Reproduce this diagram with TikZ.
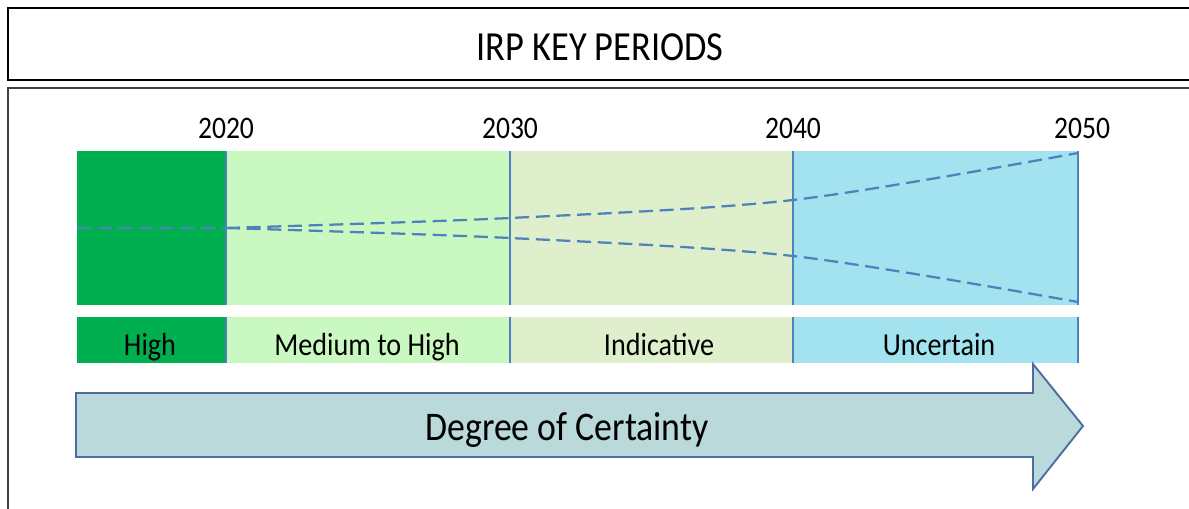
\documentclass[tikz,border=0pt]{standalone}
\usepackage{fontspec}
\setmainfont{Carlito}[FakeStretch=0.88]
\usepackage{tikz}
\usetikzlibrary{positioning,calc}
\definecolor{hiGreen}{HTML}{00B050}
\definecolor{mhGreen}{HTML}{C9F9C1}
\definecolor{indGreen}{HTML}{DFEFCB}
\definecolor{uncBlue}{HTML}{A2E3EF}
\definecolor{lineBlue}{HTML}{4F81BD}
\definecolor{arrowFill}{HTML}{B9D9DB}
\definecolor{arrowLine}{HTML}{4A6CA0}
\tikzset{
  titlebox/.style = {draw=black, line width=1.9pt},
  framebox/.style = {draw=black!75, line width=1.4pt},
  yearlbl/.style  = {anchor=base, inner sep=0pt,
    font=\fontsize{23.5}{25}\selectfont},% year above a boundary
  bandlbl/.style  = {anchor=base, inner sep=0pt,
    font=\fontsize{24}{26}\selectfont},% certainty band text
  divider/.style  = {draw=lineBlue, line width=1.1pt},
  trend/.style    = {draw=lineBlue, line width=1.7pt,
    dash pattern=on 10.5pt off 5pt},
  certarrow/.style = {draw=arrowLine, fill=arrowFill, line width=1.4pt,
    line join=miter}
}

\begin{document}
\begin{tikzpicture}[x=0.75pt,y=-0.75pt]
\useasboundingbox (0,0) rectangle (1189,508);
\clip (0,0) rectangle (1189,508);

% frames
\draw [titlebox] (8,8) rectangle (1200,80);
\node [anchor=base, inner sep=0pt, font=\fontsize{31}{33}\selectfont]
  (title) at (600,60) {IRP KEY PERIODS};
\draw [framebox] (8,88) rectangle (1200,530);

% period boundaries
\coordinate (b0) at (77,151);
\coordinate (b1) at (226,151);
\coordinate (b2) at (510,151);
\coordinate (b3) at (793,151);
\coordinate (b4) at (1078,151);

% chart bands
\fill [hiGreen]  (b0) rectangle (226,305);
\fill [mhGreen]  (b1) rectangle (510,305);
\fill [indGreen] (b2) rectangle (793,305);
\fill [uncBlue]  (b3) rectangle (1078,305);

% label bands
\fill [hiGreen]  (77,317)  rectangle (226,363);
\fill [mhGreen]  (226,317) rectangle (510,363);
\fill [indGreen] (510,317) rectangle (793,363);
\fill [uncBlue]  (793,317) rectangle (1078,363);

\foreach \b in {b1,b2,b3,b4} {
  \draw [divider] (\b) -- ($(\b)+(0,154)$);
  \draw [divider] ($(\b)+(0,166)$) -- ($(\b)+(0,212)$);
}

% years
\node [yearlbl] (y2020) at (226,138) {2020};
\node [yearlbl] (y2030) at (510,138) {2030};
\node [yearlbl] (y2040) at (793,138) {2040};
\node [yearlbl] (y2050) at (1082,138) {2050};

% band labels
\node [bandlbl] (lhigh) at (150,355) {High};
\node [bandlbl] (lmed)  at (367,355) {Medium to High};
\node [bandlbl] (lind)  at (659,355) {Indicative};
\node [bandlbl] (lunc)  at (939,355) {Uncertain};

% spread of outcomes
\coordinate (s0) at (77,228);
\coordinate (s1) at (226,228);
\coordinate (u1) at (510,218);
\coordinate (u2) at (793,200);
\coordinate (u3) at (1078,153);
\coordinate (d1) at (510,238);
\coordinate (d2) at (793,256);
\coordinate (d3) at (1078,302);
\draw [trend] (s0) -- (s1);
\draw [trend] plot [smooth, tension=0.5] coordinates {(s1) (u1) (u2) (u3)};
\draw [trend] plot [smooth, tension=0.5] coordinates {(s1) (d1) (d2) (d3)};

% degree of certainty arrow
\draw [certarrow] (76,393) -- (1033,393) -- (1033,364) -- (1083,426)
  -- (1033,489) -- (1033,457) -- (76,457) -- cycle;
\node [anchor=base, inner sep=0pt, font=\fontsize{30.5}{32}\selectfont]
  (certainty) at (567,440) {Degree of Certainty};
\end{tikzpicture}
\end{document}
